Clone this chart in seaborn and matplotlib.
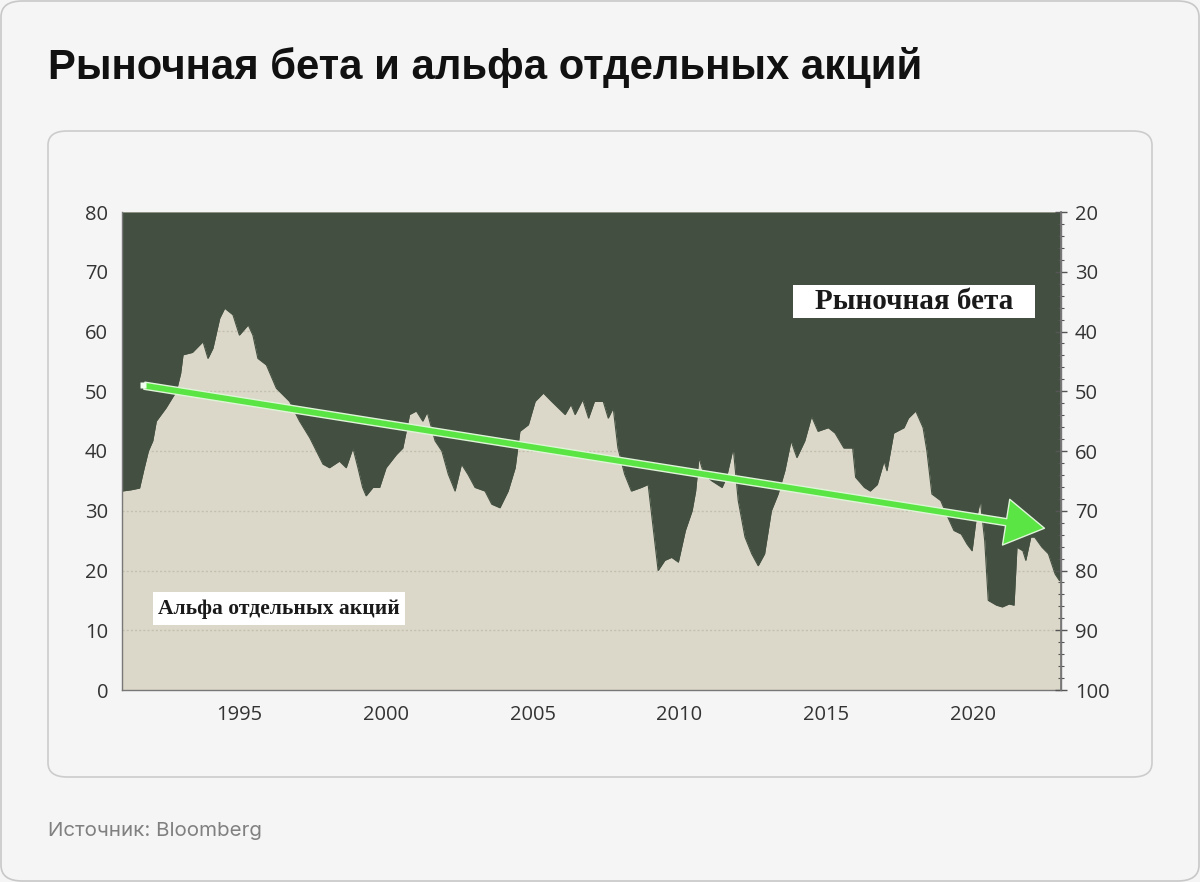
import numpy as np
import pandas as pd
import matplotlib
matplotlib.use("Agg")
import matplotlib.pyplot as plt
import seaborn as sns
from matplotlib.patches import FancyBboxPatch, FancyArrowPatch, Rectangle
from matplotlib.ticker import MultipleLocator

# ---- data ----
years = [1991.0, 1991.3, 1991.6, 1991.75, 1991.9, 1992.05, 1992.17, 1992.5, 1992.85, 1993.0,
         1993.08, 1993.4, 1993.6, 1993.76, 1993.93, 1994.1, 1994.33, 1994.5, 1994.78, 1995.0,
         1995.3, 1995.46, 1995.63, 1995.92, 1996.26, 1996.71, 1997.05, 1997.4, 1997.85, 1998.07,
         1998.41, 1998.64, 1998.87, 1999.04, 1999.2, 1999.32, 1999.55, 1999.78, 2000.0, 2000.35,
         2000.57, 2000.8, 2001.03, 2001.25, 2001.4, 2001.67, 2001.9, 2002.12, 2002.35, 2002.57,
         2002.8, 2003.03, 2003.37, 2003.6, 2003.88, 2004.16, 2004.4, 2004.56, 2004.85, 2005.08,
         2005.36, 2005.64, 2005.87, 2006.1, 2006.3, 2006.44, 2006.7, 2006.9, 2007.1, 2007.4,
         2007.57, 2007.74, 2007.9, 2008.13, 2008.36, 2008.7, 2008.93, 2009.1, 2009.27, 2009.5,
         2009.73, 2009.96, 2010.2, 2010.43, 2010.55, 2010.66, 2010.83, 2011.1, 2011.45, 2011.6,
         2011.83, 2012.0, 2012.23, 2012.46, 2012.68, 2012.9, 2013.13, 2013.36, 2013.59, 2013.8,
         2014.0, 2014.27, 2014.5, 2014.72, 2015.07, 2015.3, 2015.6, 2015.9, 2016.0, 2016.3,
         2016.5, 2016.74, 2016.97, 2017.07, 2017.3, 2017.65, 2017.8, 2018.05, 2018.3, 2018.43,
         2018.6, 2018.9, 2019.1, 2019.35, 2019.6, 2019.8, 2019.97, 2020.1, 2020.25, 2020.4,
         2020.52, 2020.8, 2021.0, 2021.23, 2021.4, 2021.5, 2021.7, 2021.8, 2021.97, 2022.1,
         2022.35, 2022.57, 2022.8, 2022.95, 2023.0]
alpha_share = [33.3, 33.5, 33.8, 37.0, 40.0, 41.7, 45.0, 47.2, 50.0, 53.0,
               56.1, 56.5, 57.5, 58.3, 55.5, 57.2, 62.2, 63.9, 62.8, 59.4,
               61.1, 59.4, 55.5, 54.4, 50.5, 48.3, 45.0, 42.2, 37.8, 37.2,
               38.3, 37.2, 40.5, 37.2, 33.9, 32.5, 33.9, 33.9, 37.2, 39.4,
               40.5, 46.1, 46.7, 45.0, 46.5, 41.7, 40.0, 36.1, 33.3, 37.8,
               36.0, 33.9, 33.3, 31.1, 30.5, 33.3, 37.2, 43.3, 44.4, 48.3,
               49.7, 48.3, 47.2, 46.1, 47.8, 46.1, 48.6, 45.5, 48.3, 48.3,
               45.5, 47.2, 40.5, 36.1, 33.3, 33.9, 34.4, 27.2, 20.0, 21.7,
               22.2, 21.4, 26.7, 30.0, 33.3, 38.9, 36.1, 35.0, 33.9, 35.6,
               40.5, 31.7, 25.6, 22.8, 20.8, 22.8, 30.0, 32.8, 36.7, 41.7,
               38.9, 41.7, 45.8, 43.3, 43.9, 43.0, 40.5, 40.5, 35.6, 33.9,
               33.3, 34.4, 38.3, 36.7, 43.0, 43.9, 45.5, 46.7, 43.9, 40.0,
               32.8, 31.7, 29.4, 26.7, 26.1, 24.4, 23.3, 28.3, 31.7, 25.0,
               15.0, 14.2, 13.9, 14.4, 14.2, 23.9, 23.3, 21.7, 25.6, 25.6,
               23.9, 22.8, 19.4, 18.3, 20.0]
trend_years = [1991.67, 2022.53]
trend_values = [51.0, 27.0]
left_ticks = [0, 10, 20, 30, 40, 50, 60, 70, 80]
right_ticks = [20, 30, 40, 50, 60, 70, 80, 90, 100]
x_ticks = [1995, 2000, 2005, 2010, 2015, 2020]

title = "Рыночная бета и альфа отдельных акций"
source = "Источник: Bloomberg"
label_beta = "Рыночная бета"
label_alpha = "Альфа отдельных акций"

df = pd.DataFrame({"year": years, "alpha": alpha_share})

# ---- style ----
BG = "#f5f5f5"
BEIGE = "#dcd8c9"
DARK = "#435041"
GREEN = "#5be545"

sns.set_theme(style="white")
plt.rcParams["font.family"] = ["Open Sans", "DejaVu Sans"]

fig = plt.figure(figsize=(12, 8.82), dpi=100)
fig.patch.set_facecolor(BG)

# outer frame and inner card
fig.patches.append(FancyBboxPatch((1 / 1200, 1 / 882), 1198 / 1200, 880 / 882,
                                  boxstyle="round,pad=0,rounding_size=0.018",
                                  transform=fig.transFigure, facecolor=BG,
                                  edgecolor="#c8c8c8", lw=1.2, zorder=-10))
fig.patches.append(FancyBboxPatch((48 / 1200, (882 - 777) / 882), 1104 / 1200, 646 / 882,
                                  boxstyle="round,pad=0,rounding_size=0.016",
                                  transform=fig.transFigure, facecolor=BG,
                                  edgecolor="#cccccc", lw=1.2, zorder=-9))

fig.text(48 / 1200, 1 - 68 / 882, title, fontsize=30.2, fontweight="bold",
         family=["Liberation Sans", "DejaVu Sans"], color="#111111", va="center", ha="left")
fig.text(48 / 1200, 1 - 831 / 882, source, fontsize=14.8,
         family=["Inter", "DejaVu Sans"], color="#808080", va="center", ha="left")

ax = fig.add_axes([122 / 1200, 192 / 882, 939 / 1200, 478 / 882])
ax.set_facecolor(BEIGE)
ax.set_xlim(1991.0, 2023.0)
ax.set_ylim(0, 80)

for v in [10, 20, 30, 40, 50, 60, 70]:
    ax.axhline(v, color="#c4c0b0", lw=1.0, ls=(0, (1.5, 1.5)), zorder=1)

ax.fill_between(df["year"], df["alpha"], 80, color=DARK, lw=0, zorder=2)
sns.lineplot(data=df, x="year", y="alpha", ax=ax, color=DARK, lw=0.8, zorder=2)

# trend arrow
arrow = FancyArrowPatch((trend_years[0], trend_values[0]), (trend_years[1], trend_values[1]),
                        arrowstyle="simple,head_length=1.3,head_width=1.55,tail_width=0.24",
                        mutation_scale=21.5, facecolor=GREEN, edgecolor="#dff5d8", lw=1.0,
                        zorder=5)
ax.add_patch(arrow)
ax.plot([trend_years[0] + 0.05], [trend_values[0]], marker="s", ms=4.5, color="#f0fff0",
        mec="none", zorder=6)

# labels (white boxes + serif text)
ax.add_patch(Rectangle((2013.87, 62.26), 8.25, 5.52, facecolor="white", edgecolor="none",
                       zorder=7))
ax.text(2018.0, 65.1, label_beta, fontsize=21, fontweight="bold",
        family=["Liberation Serif", "DejaVu Serif"], color="#1a1a1a", ha="center", va="center",
        zorder=8)
ax.add_patch(Rectangle((1992.06, 10.88), 8.59, 5.52, facecolor="white", edgecolor="none",
                       zorder=7))
ax.text(1996.35, 13.6, label_alpha, fontsize=15.5, fontweight="bold",
        family=["Liberation Serif", "DejaVu Serif"], color="#1a1a1a", ha="center", va="center",
        zorder=8)

ax.set_xlabel("")
ax.set_ylabel("")
ax.set_xticks(x_ticks)
ax.set_xticklabels([str(x) for x in x_ticks])
ax.xaxis.set_minor_locator(MultipleLocator(1))
ax.set_yticks(left_ticks)
ax.tick_params(axis="x", which="both", direction="out", length=5, width=1, color="#555555",
               labelsize=14.5, labelcolor="#333333", pad=6)
ax.tick_params(axis="y", which="both", length=0, labelsize=14.5, labelcolor="#333333", pad=10)
for s in ["left", "bottom", "right"]:
    ax.spines[s].set_color("#777777")
    ax.spines[s].set_linewidth(1)
ax.spines["top"].set_visible(False)

ax2 = ax.twinx()
ax2.set_ylim(100, 20)
ax2.set_yticks(right_ticks)
ax2.yaxis.set_minor_locator(MultipleLocator(2))
ax2.tick_params(axis="y", which="major", direction="inout", length=8, width=1,
                color="#555555", labelsize=14.5, labelcolor="#333333", pad=6)
ax2.tick_params(axis="y", which="minor", direction="inout", length=5, width=0.8,
                color="#555555")
for s in ["left", "top", "bottom"]:
    ax2.spines[s].set_visible(False)
ax2.spines["right"].set_color("#777777")
ax2.grid(False)
ax.grid(False)

fig.savefig("out.png", dpi=100, facecolor=BG)
